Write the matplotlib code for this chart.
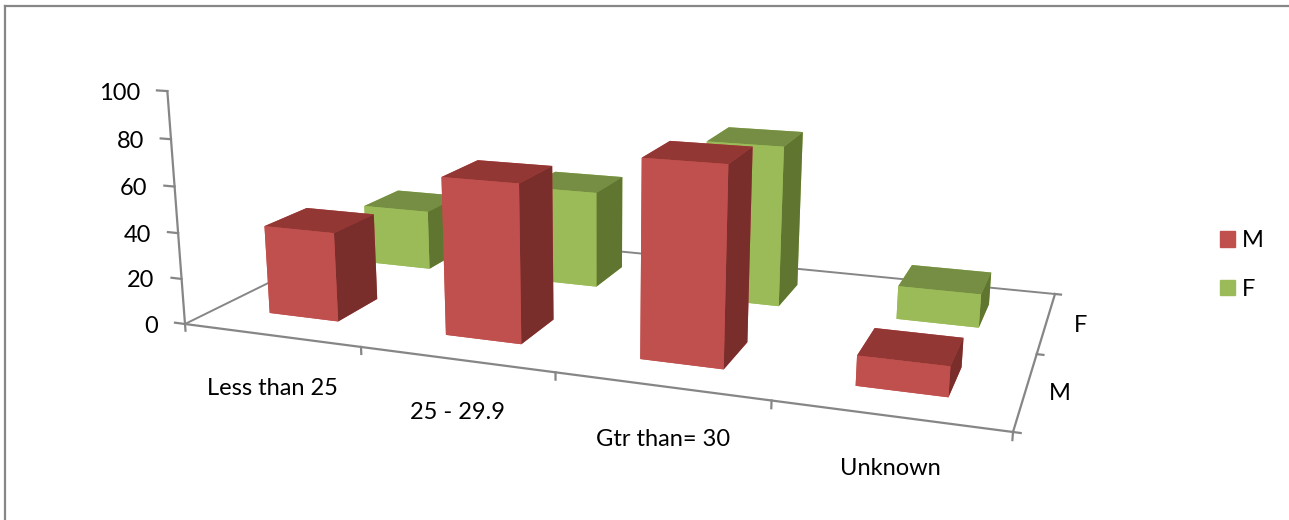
import numpy as np
import matplotlib
matplotlib.use('Agg')
from matplotlib import pyplot as plt
from matplotlib.patches import Patch
from matplotlib.lines import Line2D
from mpl_toolkits.mplot3d import proj3d

categories = ['Less than 25', '25 - 29.9', 'Gtr than= 30', 'Unknown']
series_names = ['M', 'F']
values_m = [39, 67, 81, 12]
values_f = [28, 44, 71, 14.5]
z_ticks = [0, 20, 40, 60, 80, 100]

W, H = 1289, 520
plt.rcParams['font.family'] = ['Lato', 'DejaVu Sans']
plt.rcParams['font.size'] = 17

# face order in bar3d: bottom, top, front, back, left, right
red_faces = ['#C0504D', '#933735', '#C0504D', '#C0504D', '#C0504D', '#7A2E2C']
green_faces = ['#9BBB59', '#758E43', '#9BBB59', '#9BBB59', '#9BBB59', '#5F7530']
grey = '#868686'


def floor_camera():
    # perspective of the chart floor, from its four corners in pixels
    world = [(0, 0), (4, 0), (4, 2), (0, 2)]
    pix = [(185, 324), (1013, 432), (1055, 294), (380, 228)]
    a, b = [], []
    for (x, y), (u, v) in zip(world, pix):
        a.append([x, y, 1, 0, 0, 0, -u * x, -u * y])
        b.append(u)
        a.append([0, 0, 0, x, y, 1, -v * x, -v * y])
        b.append(v)
    h = np.linalg.solve(np.array(a, float), np.array(b, float))
    return np.array([[h[0], h[1], h[2]], [h[3], h[4], h[5]], [h[6], h[7], 1.0]])


fig = plt.figure(figsize=(W / 100, H / 100), dpi=100)
# 3d axes always stay square, so it runs past the top and bottom of the figure
ax = fig.add_axes([0, (H - W) / 2 / H, 1, W / H], projection='3d')
ax.set_axis_off()
ax.computed_zorder = False
# ortho only switches off the near plane clipping of lines, the camera is set below
ax.set_proj_type('ortho')

# vertical vanishing point and scale of the value axis
floor = floor_camera()
s = -0.000408
cam = np.array([[floor[0, 0], floor[0, 1], s * 600, floor[0, 2]],
                [floor[1, 0], floor[1, 1], s * 5800, floor[1, 2]],
                [floor[2, 0], floor[2, 1], s, floor[2, 2]]])

# pixels -> the 2d limits of the axes
x0, x1 = ax.viewLim.intervalx
y0, y1 = ax.viewLim.intervaly
top = (H - W) / 2
to_view = np.array([[(x1 - x0) / W, 0, x0],
                    [0, -(y1 - y0) / W, y1 + top * (y1 - y0) / W],
                    [0, 0, 1]])
cam2 = to_view @ cam
M = np.vstack([cam2[0], cam2[1], cam2[2] - [0, 0, 0, 1], cam2[2]])
ax.get_proj = lambda: M
ax.M = M


def label(x, y, z, txt, dx=0, dy=0, **kw):
    px, py, _ = proj3d.proj_transform(x, y, z, M)
    ax.annotate(txt, xy=(px, py), xytext=(dx * 0.72, -dy * 0.72), textcoords='offset points',
                va='center', color='black', zorder=20, annotation_clip=False, **kw)


def line(p, q, lw=1.6):
    ax.plot([p[0], q[0]], [p[1], q[1]], [p[2], q[2]], color=grey, lw=lw, zorder=1)


# walls and floor edges
line((0, 0, 0), (4, 0, 0))
line((4, 0, 0), (4, 2, 0))
line((4, 2, 0), (0, 2, 0), lw=1.4)
line((0, 2, 0), (0, 0, 0), lw=1.4)
line((0, 0, 0), (0, 0, 100))

for v in z_ticks:
    line((0, 0, v), (-0.06, 0, v))
    label(0, 0, v, str(v), dx=-27, dy=2, ha='right')
for i in range(5):
    line((i, 0, 0), (i, 0, -3))
for j in range(3):
    line((4, j, 0), (4.03, j, 0))

for i, name in enumerate(categories):
    label(i + 0.5, 0, 0, name, dx=2, dy=53, ha='center')
for j, name in enumerate(series_names):
    label(4, j + 0.5, 0, name, dx=34, dy=3, ha='center')

# back row first, left to right, so the nearer bars cover the others
order = 2
for j, (vals, faces) in reversed(list(enumerate([(values_m, red_faces), (values_f, green_faces)]))):
    for i, v in enumerate(vals):
        ax.bar3d(i + 0.3, j + 0.3, 0, 0.4, 0.4, v, color=faces, shade=False,
                 linewidth=0, zorder=order)
        order += 1

handles = [Patch(color='#C0504D', label='M'), Patch(color='#9BBB59', label='F')]
fig.legend(handles=handles, loc='center left', bbox_to_anchor=(1220 / W, 1 - 265 / H),
           frameon=False, handlelength=0.635, handleheight=0.635, handletextpad=0.3,
           labelspacing=1.18, borderpad=0, borderaxespad=0)

# chart frame, cut off at the right and the bottom
fig.add_artist(Line2D([5 / W, 5 / W], [0, 1 - 6 / H], color=grey, lw=1.6))
fig.add_artist(Line2D([5 / W, 1], [1 - 6 / H, 1 - 6 / H], color=grey, lw=1.6))

fig.savefig('out.png', dpi=100)
